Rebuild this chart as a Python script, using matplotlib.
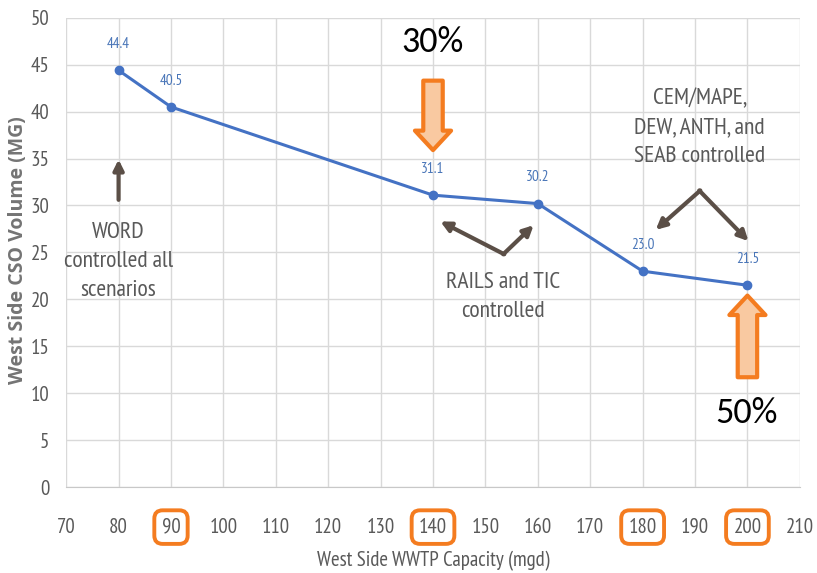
import matplotlib
matplotlib.use("Agg")
import matplotlib.pyplot as plt

# West side CSO volume vs. WWTP capacity
capacity = [80, 90, 140, 160, 180, 200]
cso_volume = [44.4, 40.5, 31.1, 30.2, 23.0, 21.5]
highlight_ticks = ["90", "140", "180", "200"]

narrow = ["PT Sans Narrow", "DejaVu Sans"]
calibri = ["Carlito", "DejaVu Sans"]
gray = "#595959"
blue = "#4472C4"
brown = "#5b4f47"
orange = "#f47c20"
peach = "#f9c9a1"

fig = plt.figure(figsize=(8.17, 5.73), dpi=100)
ax = fig.add_axes([0.081, 0.150, 0.898, 0.819])

ax.plot(capacity, cso_volume, color=blue, lw=2.2, marker="o", ms=6, zorder=3)
for x, y in zip(capacity, cso_volume):
    ax.annotate(f"{y:.1f}", (x, y), xytext=(0, 19), textcoords="offset points",
                ha="center", va="center", fontsize=11, color="#4a76b8",
                family=narrow)

ax.set_xlim(70, 210)
ax.set_ylim(0, 50)
ax.set_xticks(range(70, 211, 10))
ax.set_yticks(range(0, 51, 5))
ax.grid(True, color="#d9d9d9", lw=1)
ax.set_axisbelow(True)
for s in ["top", "right", "left"]:
    ax.spines[s].set_visible(False)
ax.spines["bottom"].set_color("#c8c8c8")
ax.tick_params(length=0, labelcolor=gray, labelsize=15)
ax.tick_params(axis="x", pad=22)
ax.tick_params(axis="y", pad=12)
for lbl in ax.get_xticklabels() + ax.get_yticklabels():
    lbl.set_family(narrow)
for lbl in ax.get_xticklabels():
    if lbl.get_text() in highlight_ticks:
        lbl.set_bbox(dict(boxstyle="round,pad=0.35,rounding_size=0.4",
                          fc="none", ec=orange, lw=2.8))

ax.set_xlabel("West Side WWTP Capacity (mgd)", color=gray, fontsize=15,
              family=narrow, labelpad=10)
ax.set_ylabel("West Side CSO Volume (MG)", color="#747474", fontsize=14,
              fontweight="bold", family=["Open Sans", "DejaVu Sans"])
ax.yaxis.set_label_coords(-0.052, 0.505)

# scenario notes
note = dict(ha="center", va="center", color=gray, fontsize=17, family=narrow,
            linespacing=1.5)
ax.text(80, 24.0, "WORD\ncontrolled all\nscenarios", **note)
ax.text(153.3, 20.2, "RAILS and TIC\ncontrolled", **note)
ax.text(190.9, 38.3, "CEM/MAPE,\nDEW, ANTH, and\nSEAB controlled", **note)

brown_arrow = dict(arrowstyle="-|>", color=brown, lw=3, mutation_scale=15,
                   shrinkA=0, shrinkB=0)
ax.annotate("", xy=(80, 34.9), xytext=(80, 30.6), arrowprops=brown_arrow)
ax.annotate("", xy=(141.4, 28.3), xytext=(153.6, 24.8), arrowprops=brown_arrow)
ax.annotate("", xy=(159.2, 27.9), xytext=(153.4, 24.8), arrowprops=brown_arrow)
ax.annotate("", xy=(182.5, 27.4), xytext=(191.0, 31.6), arrowprops=brown_arrow)
ax.annotate("", xy=(200.2, 26.2), xytext=(190.8, 31.6), arrowprops=brown_arrow)

# reduction callouts
block = dict(arrowstyle="simple,head_length=1.4,head_width=2.6,tail_width=1.4",
             fc=peach, ec=orange, lw=3, mutation_scale=10, shrinkA=0, shrinkB=0)
ax.annotate("", xy=(140, 35.9), xytext=(140, 43.3), arrowprops=block)
ax.annotate("", xy=(200, 20.4), xytext=(200, 11.7), arrowprops=block)
ax.text(139.9, 47.4, "30%", ha="center", va="center", fontsize=26, color="black",
        family=calibri)
ax.text(199.9, 7.9, "50%", ha="center", va="center", fontsize=26, color="black",
        family=calibri)

fig.savefig("out.png", dpi=100)
